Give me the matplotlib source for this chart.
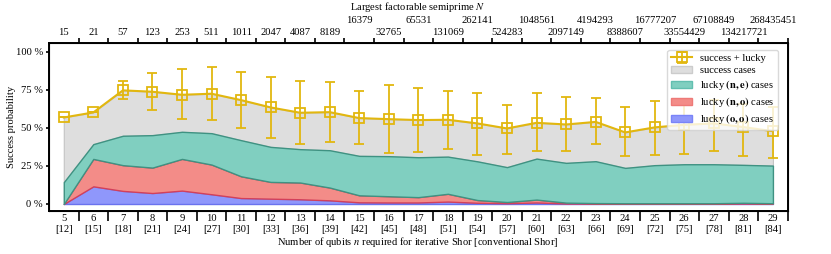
import numpy as np
import matplotlib
matplotlib.use("Agg")
import matplotlib.pyplot as plt

plt.rcParams['font.family'] = ['Liberation Serif', 'DejaVu Serif']
plt.rcParams['mathtext.fontset'] = 'stix'

# ---- data (percent) ----
qubits = list(range(5, 30))
conventional = [3 * q - 3 for q in qubits]
largest_N = [15, 21, 57, 123, 253, 511, 1011, 2047, 4087, 8189, 16379, 32765, 65531,
             131069, 262141, 524283, 1048561, 2097149, 4194293, 8388607, 16777207,
             33554429, 67108849, 134217721, 268435451]

total = [56.8, 60.1, 74.6, 73.7, 71.7, 72.4, 68.2, 63.4, 59.9, 60.3, 56.4, 55.7, 55.1,
         55.3, 52.9, 49.6, 53.3, 52.2, 53.9, 47.0, 50.3, 52.0, 52.9, 50.5, 47.8]
total_hi = [56.8, 60.1, 80.7, 86.2, 88.4, 90.1, 86.8, 83.2, 80.7, 79.9, 74.3, 77.9, 76.3,
            74.1, 73.0, 64.9, 72.6, 70.0, 69.7, 63.6, 67.8, 68.0, 68.5, 65.5, 64.0]
total_lo = [56.8, 60.1, 68.9, 61.8, 55.5, 55.0, 50.0, 43.4, 39.3, 41.0, 39.3, 33.8, 34.2,
            35.8, 32.2, 32.5, 35.1, 34.7, 39.1, 31.2, 32.2, 33.0, 34.9, 31.3, 30.1]
# cumulative upper boundaries of the stacked lucky areas
cum_ne = [14.3, 39.3, 44.8, 45.2, 47.4, 46.5, 41.9, 37.5, 36.0, 35.3, 31.6, 31.4, 30.7,
          31.1, 28.0, 24.2, 29.8, 27.0, 28.1, 23.7, 25.5, 26.1, 26.1, 25.7, 25.2]
cum_no = [0.0, 29.6, 25.5, 23.9, 29.6, 25.9, 18.2, 14.5, 14.1, 10.8, 5.7, 5.1, 4.5,
          6.7, 2.6, 1.3, 2.9, 0.9, 0.6, 0.5, 0.5, 0.5, 0.5, 0.8, 0.5]
cum_oo = [0.0, 11.6, 8.6, 7.2, 8.8, 6.4, 3.9, 3.5, 3.1, 2.4, 1.1, 1.0, 1.0,
          1.6, 0.8, 0.5, 1.0, 0.3, 0.3, 0.3, 0.3, 0.3, 0.3, 0.3, 0.3]

x = np.array(qubits)
tot = np.array(total)
FS = 7.6

W, H = 831, 254
fig = plt.figure(figsize=(W / 100, H / 100), dpi=100)
L, R, T, B = 49, 787.7, 43, 211
ax = fig.add_axes([L / W, 1 - B / H, (R - L) / W, (B - T) / H])

yellow = '#E2B70F'
ax.fill_between(x, cum_ne, tot, facecolor='#dedede', edgecolor='#c4c4c4', lw=0.8, zorder=1)
ax.fill_between(x, 0, cum_oo, facecolor='#8f97fb', edgecolor='#6a72ee', lw=1.0, zorder=2)
ax.fill_between(x, cum_oo, cum_no, facecolor='#f38c88', edgecolor='#d3405a', lw=1.0, zorder=3)
ax.fill_between(x, cum_no, cum_ne, facecolor='#80cfc0', edgecolor='#3f9282', lw=1.0, zorder=4)
h_grey = plt.Rectangle((0, 0), 1, 1, facecolor='#dedede', edgecolor='#cccccc', lw=1)
h_green = plt.Rectangle((0, 0), 1, 1, facecolor='#80cfc0', edgecolor='#62bfb0', lw=1)
h_red = plt.Rectangle((0, 0), 1, 1, facecolor='#f38c88', edgecolor='#ee7a78', lw=1)
h_blue = plt.Rectangle((0, 0), 1, 1, facecolor='#8f97fb', edgecolor='#7a84f8', lw=1)

yerr = [tot - np.array(total_lo), np.array(total_hi) - tot]
eb = ax.errorbar(x, tot, yerr=yerr, color=yellow, marker='s', ms=7, mfc='none',
                 mec=yellow, mew=1.3, capsize=3.5, elinewidth=1.3, capthick=1.3,
                 lw=1.5, zorder=6)

ax.set_xlim(4.5, 29.5)
ax.set_ylim(-4.6, 105.7)

ax.set_xticks(np.arange(5.5, 29.6, 1.0))
ax.set_xticklabels([])
ax.set_xticks(x, minor=True)
ax.set_xticklabels([f"{q}\n[{c}]" for q, c in zip(qubits, conventional)], minor=True)
ax.tick_params(axis='x', which='major', direction='out', length=7, width=1.2)
ax.tick_params(axis='x', which='minor', length=0, pad=2.5, labelsize=FS)
ax.set_yticks([0, 25, 50, 75, 100])
ax.set_yticklabels([f"{v} %" for v in [0, 25, 50, 75, 100]])
ax.tick_params(axis='y', direction='out', length=2.5, width=1.2, pad=2, labelsize=FS)
for s in ax.spines.values():
    s.set_linewidth(1.4)

# top axis: lower row of labels
ax2 = ax.twiny()
ax2.set_xlim(ax.get_xlim())
ax2.set_xticks(np.arange(5.5, 29.6, 1.0))
ax2.set_xticklabels([])
low_idx = [i for i, q in enumerate(qubits) if not (q >= 15 and (q - 15) % 2 == 0)]
up_idx = [i for i, q in enumerate(qubits) if q >= 15 and (q - 15) % 2 == 0]
ax2.set_xticks([qubits[i] for i in low_idx], minor=True)
ax2.set_xticklabels([str(largest_N[i]) for i in low_idx], minor=True)
ax2.tick_params(axis='x', which='major', direction='out', length=3.5, width=1.2)
ax2.tick_params(axis='x', which='minor', length=0, pad=4, labelsize=FS)

# top axis: upper row of labels
ax3 = ax.twiny()
ax3.set_xlim(ax.get_xlim())
ax3.set_xticks([qubits[i] for i in up_idx])
ax3.set_xticklabels([str(largest_N[i]) for i in up_idx])
ax3.tick_params(axis='x', which='major', length=0, pad=13.2, labelsize=FS)
for s in ax3.spines.values():
    s.set_visible(False)

fig.text(418 / W, 1 - 7 / H, r"Largest factorable semiprime $N$", ha='center', va='center', fontsize=FS)
fig.text(418 / W, 1 - 242 / H, r"Number of qubits $n$ required for iterative Shor [conventional Shor]",
         ha='center', va='center', fontsize=FS)
fig.text(12 / W, 1 - 127 / H, "Success probability", rotation=90, ha='center', va='center', fontsize=FS)

leg = ax.legend([eb, h_grey, h_green, h_red, h_blue],
                ["success + lucky", "success cases", r"lucky $\mathbf{(n, e)}$ cases",
                 r"lucky $\mathbf{(n, o)}$ cases", r"lucky $\mathbf{(o, o)}$ cases"],
                loc='upper right', bbox_to_anchor=(1 - 9.4 / (R - L), 1 - 7 / (B - T)),
                borderaxespad=0, fontsize=FS, frameon=True, framealpha=0.8,
                edgecolor='#d0d0d0', fancybox=True, handlelength=2.0, handletextpad=0.75,
                labelspacing=0.28, borderpad=0.35)
leg.set_zorder(10)

fig.savefig("out.png", dpi=100)
